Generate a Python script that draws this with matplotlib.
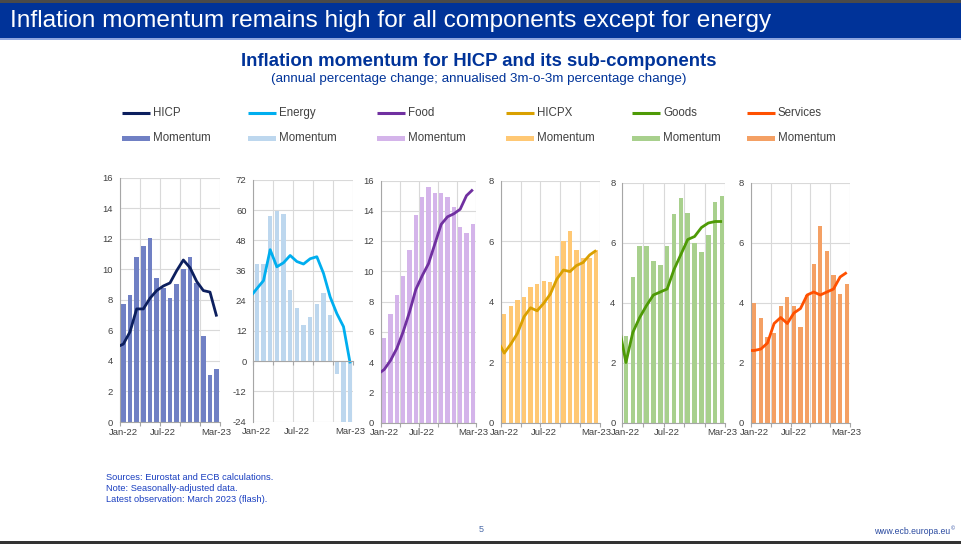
import matplotlib
matplotlib.use('Agg')
import matplotlib.pyplot as plt
import numpy as np
from matplotlib.lines import Line2D
from matplotlib.patches import Rectangle
import matplotlib.transforms as mtrans

plt.rcParams['font.family'] = ['Liberation Sans', 'DejaVu Sans']
plt.rcParams['axes.unicode_minus'] = False

W, H = 962, 544

# ---------------- data ----------------
months = ['Jan-22', 'Feb-22', 'Mar-22', 'Apr-22', 'May-22', 'Jun-22', 'Jul-22', 'Aug-22',
          'Sep-22', 'Oct-22', 'Nov-22', 'Dec-22', 'Jan-23', 'Feb-23', 'Mar-23']
tick_labels = ['Jan-22', 'Jul-22', 'Mar-23']

# annual rate in Dec-21 (line enters the panel from the left edge)
dec21 = {'HICP': 4.9, 'Energy': 25.5, 'Food': 3.2, 'HICPX': 2.7, 'Goods': 3.2, 'Services': 2.4}

hicp_annual = [5.1, 5.9, 7.4, 7.4, 8.1, 8.6, 8.9, 9.1, 9.9, 10.6, 10.1, 9.2, 8.6, 8.5, 6.9]
hicp_momentum = [7.7, 8.3, 10.8, 11.5, 12.05, 9.4, 8.8, 8.1, 9.0, 10.0, 10.8, 9.1, 5.6, 3.1, 3.5]

energy_annual = [28.8, 32.0, 44.3, 37.5, 39.1, 42.0, 39.6, 38.6, 40.7, 41.5, 34.9, 25.5, 18.9, 13.7, -0.9]
energy_momentum = [38.7, 38.7, 57.7, 59.5, 58.3, 28.3, 21.3, 14.2, 17.4, 22.8, 27.0, 18.4, -5.2, -29.0, -27.0]

food_annual = [3.5, 4.1, 4.9, 6.0, 7.3, 8.8, 9.7, 10.5, 11.8, 13.1, 13.6, 13.8, 14.1, 15.0, 15.4]
food_momentum = [5.6, 7.2, 8.4, 9.7, 11.4, 13.7, 14.9, 15.55, 15.2, 15.15, 14.9, 14.25, 12.9, 12.5, 13.15]

hicpx_annual = [2.3, 2.6, 2.95, 3.5, 3.8, 3.7, 3.95, 4.25, 4.75, 5.05, 5.0, 5.2, 5.3, 5.55, 5.7]
hicpx_momentum = [3.6, 3.85, 4.05, 4.15, 4.5, 4.6, 4.7, 4.65, 5.5, 6.0, 6.33, 5.7, 5.45, 5.45, 5.73]

goods_annual = [2.0, 3.0, 3.5, 3.9, 4.25, 4.35, 4.45, 5.1, 5.6, 6.1, 6.2, 6.5, 6.65, 6.7, 6.7]
goods_momentum = [2.9, 4.85, 5.9, 5.9, 5.4, 5.25, 5.9, 6.95, 7.5, 7.0, 6.0, 5.7, 6.25, 7.35, 7.55]

services_annual = [2.4, 2.45, 2.65, 3.3, 3.5, 3.3, 3.65, 3.8, 4.25, 4.35, 4.25, 4.35, 4.45, 4.85, 5.0]
services_momentum = [4.0, 3.5, 2.85, 3.0, 3.9, 4.2, 3.9, 3.2, 4.25, 5.3, 6.55, 5.72, 4.92, 4.3, 4.62]

series_names = ['HICP', 'Energy', 'Food', 'HICPX', 'Goods', 'Services']
annual = [hicp_annual, energy_annual, food_annual, hicpx_annual, goods_annual, services_annual]
momentum = [hicp_momentum, energy_momentum, food_momentum, hicpx_momentum, goods_momentum, services_momentum]

# ---------------- styles ----------------
line_colors = ['#0c1f5e', '#00aeef', '#7030a0', '#d9a000', '#4e9a06', '#ff5000']
bar_colors = ['#7080c4', '#bdd7ee', '#d4b4ea', '#ffc874', '#a8d08d', '#f4a064']
ylims = [(0, 16), (-24, 72), (0, 16), (0, 8), (0, 8), (0, 8)]
ysteps = [2, 12, 2, 2, 2, 2]
# axes rectangles in pixels: left, right, top, bottom
rects = [(120, 220, 177.5, 422), (253.5, 353.5, 180, 421.5), (381, 476, 180.5, 422.5),
         (501, 599.5, 181, 422.5), (622.5, 725.5, 182.5, 422.5), (751, 850, 182.5, 422.5)]

BLUE = '#003399'
TXT = '#404040'
GRID = '#d9d9d9'
AXC = '#a6a6a6'

fig = plt.figure(figsize=(W / 100, H / 100), dpi=100)
fig.patch.set_facecolor('white')

def fx(px):
    return px / W

def fy(py):
    return 1 - py / H

# page frame
fig.add_artist(Rectangle((0, fy(3)), 1, 3 / H, transform=fig.transFigure, color='#4a4a4a', lw=0))
fig.add_artist(Rectangle((0, 0), 1, 3 / H, transform=fig.transFigure, color='#333333', lw=0))
fig.add_artist(Rectangle((0, fy(38.5)), 1, 35.5 / H, transform=fig.transFigure, color=BLUE, lw=0))
fig.add_artist(Rectangle((0, fy(40)), 1, 1.5 / H, transform=fig.transFigure, color='#8ea6e0', lw=0))

fig.text(fx(10), fy(21), 'Inflation momentum remains high for all components except for energy',
         color='white', fontsize=17.6, va='center', ha='left')
fig.text(fx(479), fy(61), 'Inflation momentum for HICP and its sub-components',
         color=BLUE, fontsize=13.4, fontweight='bold', va='center', ha='center')
fig.text(fx(479), fy(79), '(annual percentage change; annualised 3m-o-3m percentage change)',
         color=BLUE, fontsize=9.6, va='center', ha='center')

# legend (manual, 6 columns x 2 rows)
leg_x = [122, 248, 377, 506, 632, 747]
row1, row2 = 113, 138
for i, name in enumerate(series_names):
    x0 = leg_x[i]
    fig.add_artist(Line2D([fx(x0), fx(x0 + 28)], [fy(row1), fy(row1)], transform=fig.transFigure,
                          color=line_colors[i], lw=2.2, solid_capstyle='butt'))
    fig.text(fx(x0 + 31), fy(row1), name, color=TXT, fontsize=8.3, va='center', ha='left')
    fig.add_artist(Rectangle((fx(x0), fy(row2 + 2.5)), 28 / W, 5 / H, transform=fig.transFigure,
                             color=bar_colors[i], lw=0))
    fig.text(fx(x0 + 31), fy(row2), 'Momentum', color=TXT, fontsize=8.3, va='center', ha='left')

x = np.arange(len(months))
tick_pos = [months.index(t) for t in tick_labels]

for i in range(6):
    l, r, t, b = rects[i]
    ax = fig.add_axes([fx(l), fy(b), (r - l) / W, (b - t) / H])
    ax.set_facecolor('white')
    ax.bar(x, momentum[i], width=0.66, color=bar_colors[i], zorder=2)
    lx = np.concatenate([[-1], x])
    ly = np.concatenate([[dec21[series_names[i]]], annual[i]])
    ax.plot(lx, ly, color=line_colors[i], lw=2.0, zorder=3, solid_joinstyle='round',
            solid_capstyle='butt')
    lo, hi = ylims[i]
    ax.set_ylim(lo, hi)
    ax.set_xlim(-0.5, len(months) - 0.5)
    ax.set_yticks(np.arange(lo, hi + 0.01, ysteps[i]))
    ax.set_xticks(np.arange(-0.5, len(months), 3))
    ax.set_xticklabels([])
    ax.grid(True, color=GRID, lw=0.8, zorder=0)
    ax.set_axisbelow(True)
    for s in ['top', 'right']:
        ax.spines[s].set_visible(False)
    ax.spines['left'].set_color(AXC)
    ax.spines['left'].set_linewidth(0.8)
    ax.spines['bottom'].set_color(AXC)
    ax.spines['bottom'].set_linewidth(0.8)
    ax.spines['bottom'].set_position(('data', 0))
    ax.spines['bottom'].set_zorder(4)
    ax.tick_params(axis='y', length=0, pad=5, labelsize=6.8, labelcolor=TXT)
    ax.tick_params(axis='x', length=3, width=0.8, color=AXC, direction='out')
    tr = mtrans.offset_copy(mtrans.blended_transform_factory(ax.transData, ax.transAxes),
                            fig=fig, y=-4, units='points')
    for p, lab in zip(tick_pos, tick_labels):
        ax.text(p, 0, lab, transform=tr, ha='center', va='top', fontsize=6.8, color=TXT)

# footnotes
notes = ['Sources: Eurostat and ECB calculations.', 'Note: Seasonally-adjusted data.',
         'Latest observation: March 2023 (flash).']
for k, n in enumerate(notes):
    fig.text(fx(106), fy(478 + 10.5 * k), n, color='#1a3fc0', fontsize=6.65, va='center', ha='left')

fig.text(fx(481), fy(530), '5', color='#4a6aa8', fontsize=6.5, va='center', ha='center')
fig.text(fx(950), fy(532), 'www.ecb.europa.eu', color='#2a4aa0', fontsize=6.2, va='center', ha='right')
fig.text(fx(951), fy(529), '©', color='#2a4aa0', fontsize=4, va='center', ha='left')

fig.savefig('out.png', dpi=100, facecolor='white')
